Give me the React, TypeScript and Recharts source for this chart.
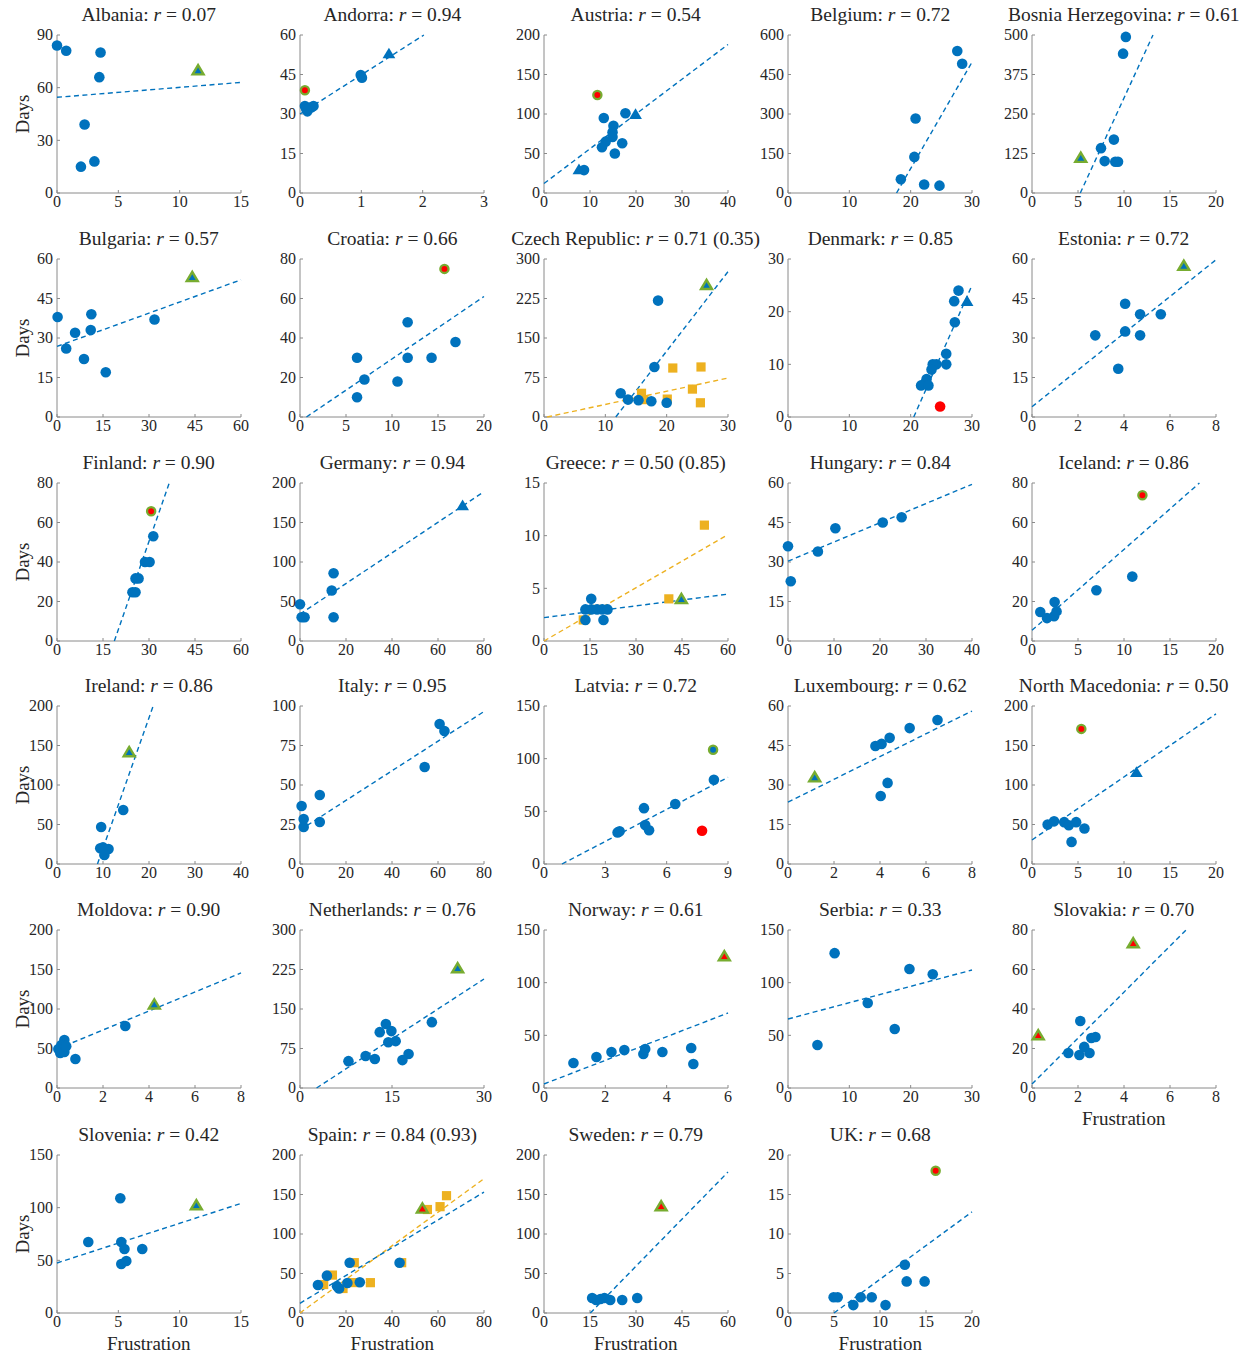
import React from 'react';
import { ScatterChart, Scatter, XAxis, YAxis } from 'recharts';

type Pt = [number, number];

const BLUE = '#0072BD';
const ORANGE = '#EDB120';
const GREEN = '#77AC30';
const RED = '#FF0000';
const AXIS = '#8a8a8a';
const TEXT = '#262626';
const FONT = 'Liberation Serif, DejaVu Serif, serif';

// ---- per-country data (Frustration, Days) ----
const albania = { c: [[0, 84], [0.75, 81], [3.55, 80], [3.45, 66], [2.25, 39], [1.95, 15], [3.05, 18]] as Pt[], gt: [[11.5, 70]] as Pt[], line: [[0, 54.5], [15, 63]] as Pt[] };
const andorra = { c: [[0.08, 33], [0.12, 31], [0.18, 32.5], [0.22, 33], [0.1, 32], [0.99, 44.8], [1.01, 43.8]] as Pt[], t: [[1.45, 53]] as Pt[], gc: [[0.08, 39]] as Pt[], line: [[0, 30], [2.02, 60]] as Pt[] };
const austria = { c: [[13, 95], [17.7, 101], [15.1, 85], [14.9, 77], [14.9, 71], [13.4, 65], [12.6, 58], [17, 63], [15.4, 50], [8.7, 29]] as Pt[], t: [[19.9, 100], [7.6, 30]] as Pt[], gc: [[11.6, 124]] as Pt[], line: [[0, 12], [40, 188]] as Pt[] };
const belgium = { c: [[27.6, 539], [28.4, 491], [20.8, 283], [20.6, 137], [18.4, 52], [22.2, 32], [24.7, 28]] as Pt[], line: [[17.7, 0], [30, 497]] as Pt[] };
const bosnia = { c: [[10.2, 494], [9.9, 441], [8.9, 169], [7.5, 142], [7.9, 101], [9.05, 99], [9.35, 99]] as Pt[], gt: [[5.3, 112]] as Pt[], line: [[5.25, 0], [13.15, 500]] as Pt[] };
const bulgaria = { c: [[0.2, 38], [3, 26], [5.9, 32], [8.8, 22], [11, 33], [11.2, 39], [15.9, 17], [31.8, 37]] as Pt[], gt: [[44.1, 53.2]] as Pt[], line: [[0, 26.8], [60, 52.1]] as Pt[] };
const croatia = { c: [[6.2, 30], [6.2, 10], [7, 19], [11.7, 48], [11.7, 30], [10.6, 18], [14.3, 30], [16.9, 38]] as Pt[], gc: [[15.7, 75]] as Pt[], line: [[0.7, 0], [20, 61]] as Pt[] };
const czech = { c: [[18.6, 221], [18, 95], [12.5, 45], [13.7, 33], [15.4, 32], [17.5, 30], [20, 27]] as Pt[], gt: [[26.5, 251]] as Pt[], sq: [[21, 93], [25.6, 95], [24.2, 53], [25.5, 27], [15.9, 45], [16.3, 33], [20.1, 34]] as Pt[], line: [[11.7, 0], [30, 276]] as Pt[], oline: [[0.5, 0], [30, 74]] as Pt[] };
const denmark = { c: [[27.8, 24], [27.1, 22], [27.2, 18], [25.8, 12], [25.8, 10], [24.2, 10], [23.6, 10], [23.4, 9], [22.6, 7.2], [22.4, 6.5], [21.7, 6], [22.9, 6]] as Pt[], t: [[29.2, 22]] as Pt[], rc: [[24.8, 2]] as Pt[], line: [[20.5, 0], [30, 25]] as Pt[] };
const estonia = { c: [[2.75, 31], [4.05, 43], [4.05, 32.5], [4.7, 39], [4.7, 31], [5.6, 39], [3.75, 18.3]] as Pt[], gt: [[6.6, 57.5]] as Pt[], line: [[0, 3.9], [8, 59.7]] as Pt[] };
const finland = { c: [[31.4, 53], [28.7, 40], [30.2, 40], [25.6, 31.7], [26.6, 31.7], [24.6, 24.7], [25.6, 24.7]] as Pt[], gc: [[30.7, 65.7]] as Pt[], line: [[18.7, 0], [36.6, 80]] as Pt[] };
const germany = { c: [[0, 46.5], [0.7, 30], [2, 30], [14.6, 85.7], [13.8, 64], [14.6, 30]] as Pt[], t: [[70.7, 171.8]] as Pt[], line: [[0, 34], [80, 189]] as Pt[] };
const greece = { sq: [[52.3, 11], [40.7, 4], [12.8, 2], [17.5, 3]] as Pt[], c: [[13.5, 2], [19.4, 2], [13.5, 3], [15.4, 3], [17.3, 3], [19, 3], [20.7, 3], [15.4, 4]] as Pt[], gt: [[44.8, 4]] as Pt[], line: [[0, 2.22], [60, 4.45]] as Pt[], oline: [[0, 0], [60, 10.1]] as Pt[] };
const hungary = { c: [[0, 36], [0.6, 22.7], [6.5, 34], [10.3, 42.8], [20.6, 45], [24.7, 47]] as Pt[], line: [[0, 30.3], [40, 59.5]] as Pt[] };
const iceland = { c: [[10.9, 32.6], [7, 25.7], [2.46, 19.7], [0.9, 14.7], [1.63, 11.6], [2.4, 12.5], [2.67, 15]] as Pt[], gc: [[12, 73.8]] as Pt[], line: [[0, 5.4], [18.2, 80]] as Pt[] };
const ireland = { c: [[14.4, 68.4], [9.6, 46.8], [9.4, 20], [10.3, 11.4], [11.2, 19], [10, 21]] as Pt[], gt: [[15.7, 141.8]] as Pt[], line: [[8.8, 0], [20.9, 200]] as Pt[] };
const italy = { c: [[0.7, 36.7], [1.6, 28.5], [1.6, 23.4], [8.6, 43.7], [8.6, 26.6], [54.2, 61.4], [60.7, 88.6], [62.8, 84.2]] as Pt[], line: [[0, 21.5], [80, 96.5]] as Pt[] };
const latvia = { c: [[8.31, 80], [6.42, 57], [4.89, 53], [4.95, 37], [5.14, 32], [3.6, 30], [3.7, 31]] as Pt[], gbc: [[8.27, 108.5]] as Pt[], rc: [[7.73, 31.5]] as Pt[], line: [[0.88, 0], [9, 82.3]] as Pt[] };
const luxembourg = { c: [[3.8, 44.8], [4.07, 45.6], [4.42, 47.9], [5.29, 51.6], [6.5, 54.7], [4.33, 30.8], [4.03, 25.8]] as Pt[], gt: [[1.16, 33]] as Pt[], line: [[0, 23.5], [8, 58.1]] as Pt[] };
const macedonia = { c: [[1.7, 50], [2.4, 54], [3.5, 53], [4.0, 49], [4.8, 53], [5.7, 45], [4.3, 28]] as Pt[], t: [[11.35, 116.5]] as Pt[], gc: [[5.36, 171]] as Pt[], line: [[0, 30.4], [20, 190]] as Pt[] };
const moldova = { c: [[2.97, 78.5], [0.32, 60.8], [0.19, 54.4], [0.06, 49.4], [0.14, 44.3], [0.32, 45.6], [0.8, 36.7], [0.4, 53]] as Pt[], gt: [[4.23, 106]] as Pt[], line: [[0, 49.4], [8, 145.6]] as Pt[] };
const netherlands = { c: [[14, 121.5], [14.9, 108], [13, 106], [14.4, 87], [15.6, 89], [21.5, 125], [17.7, 64.6], [16.7, 53], [10.7, 60.8], [7.9, 51], [12.2, 55]] as Pt[], gt: [[25.7, 227.8]] as Pt[], line: [[2.7, 0], [30, 207]] as Pt[] };
const norway = { c: [[0.96, 23.7], [1.71, 29.4], [2.2, 34.2], [2.62, 36], [3.24, 32.3], [3.3, 37], [3.86, 34.2], [4.8, 38], [4.87, 22.8]] as Pt[], rt: [[5.88, 125.3]] as Pt[], line: [[0, 3.8], [6, 71.2]] as Pt[] };
const serbia = { c: [[7.6, 128], [4.8, 40.8], [13, 80.7], [17.4, 56], [19.8, 113], [23.6, 108]] as Pt[], line: [[0, 65.5], [30, 112]] as Pt[] };
const slovakia = { c: [[2.1, 33.9], [1.58, 17.7], [2.06, 16.7], [2.27, 20.8], [2.5, 17.7], [2.58, 25.3], [2.76, 25.8]] as Pt[], rt: [[0.27, 26.8], [4.4, 73.4]] as Pt[], line: [[0, 2], [6.7, 80]] as Pt[] };
const slovenia = { c: [[2.55, 67.4], [5.16, 109], [5.24, 67.4], [5.5, 60.8], [5.24, 46.5], [5.65, 49.4], [6.95, 60.8]] as Pt[], gt: [[11.36, 102.5]] as Pt[], line: [[0, 47.5], [15, 104]] as Pt[] };
const spain = { sq: [[63.7, 148.5], [60.9, 134.6], [55.4, 131], [44.2, 63.7], [23.6, 63.7], [30.6, 38.4], [14.1, 48], [18.7, 31], [10.3, 36], [23.5, 38.5]] as Pt[], c: [[7.8, 35.4], [11.7, 47.3], [16.1, 34], [17, 31], [20.6, 38], [21.6, 63.7], [26, 38.9], [43.3, 63.7]] as Pt[], rt: [[53.2, 132.5]] as Pt[], line: [[0, 12.3], [80, 153]] as Pt[], oline: [[0, 0], [80, 170]] as Pt[] };
const sweden = { c: [[15.7, 19], [17, 16.5], [18.4, 17.7], [19.7, 19], [21.6, 16.5], [25.5, 16.5], [30.4, 19]] as Pt[], rt: [[38.2, 135.4]] as Pt[], line: [[15.1, 0], [60, 178.5]] as Pt[] };
const uk = { c: [[4.96, 2], [5.4, 2], [7.9, 2], [9.1, 2], [7.1, 1], [10.6, 1], [12.7, 6.1], [12.9, 4], [14.85, 4]] as Pt[], gc: [[16.05, 18]] as Pt[], line: [[5, 0], [20, 12.8]] as Pt[] };

const countryData = [albania, andorra, austria, belgium, bosnia, bulgaria, croatia, czech, denmark, estonia, finland, germany, greece, hungary, iceland, ireland, italy, latvia, luxembourg, macedonia, moldova, netherlands, norway, serbia, slovakia, slovenia, spain, sweden, uk];

const names = ['Albania', 'Andorra', 'Austria', 'Belgium', 'Bosnia Herzegovina', 'Bulgaria', 'Croatia', 'Czech Republic', 'Denmark', 'Estonia', 'Finland', 'Germany', 'Greece', 'Hungary', 'Iceland', 'Ireland', 'Italy', 'Latvia', 'Luxembourg', 'North Macedonia', 'Moldova', 'Netherlands', 'Norway', 'Serbia', 'Slovakia', 'Slovenia', 'Spain', 'Sweden', 'UK'];
const rValues = ['0.07', '0.94', '0.54', '0.72', '0.61', '0.57', '0.66', '0.71', '0.85', '0.72', '0.90', '0.94', '0.50', '0.84', '0.86', '0.86', '0.95', '0.72', '0.62', '0.50', '0.90', '0.76', '0.61', '0.33', '0.70', '0.42', '0.84', '0.79', '0.68'];
const rAlt: Record<number, string> = { 7: '0.35', 12: '0.85', 26: '0.93' };

const xTicks: number[][] = [
  [0, 5, 10, 15], [0, 1, 2, 3], [0, 10, 20, 30, 40], [0, 10, 20, 30], [0, 5, 10, 15, 20],
  [0, 15, 30, 45, 60], [0, 5, 10, 15, 20], [0, 10, 20, 30], [0, 10, 20, 30], [0, 2, 4, 6, 8],
  [0, 15, 30, 45, 60], [0, 20, 40, 60, 80], [0, 15, 30, 45, 60], [0, 10, 20, 30, 40], [0, 5, 10, 15, 20],
  [0, 10, 20, 30, 40], [0, 20, 40, 60, 80], [0, 3, 6, 9], [0, 2, 4, 6, 8], [0, 5, 10, 15, 20],
  [0, 2, 4, 6, 8], [0, 15, 30], [0, 2, 4, 6], [0, 10, 20, 30], [0, 2, 4, 6, 8],
  [0, 5, 10, 15], [0, 20, 40, 60, 80], [0, 15, 30, 45, 60], [0, 5, 10, 15, 20],
];
const yTicks: number[][] = [
  [0, 30, 60, 90], [0, 15, 30, 45, 60], [0, 50, 100, 150, 200], [0, 150, 300, 450, 600], [0, 125, 250, 375, 500],
  [0, 15, 30, 45, 60], [0, 20, 40, 60, 80], [0, 75, 150, 225, 300], [0, 10, 20, 30], [0, 15, 30, 45, 60],
  [0, 20, 40, 60, 80], [0, 50, 100, 150, 200], [0, 5, 10, 15], [0, 15, 30, 45, 60], [0, 20, 40, 60, 80],
  [0, 50, 100, 150, 200], [0, 25, 50, 75, 100], [0, 50, 100, 150], [0, 15, 30, 45, 60], [0, 50, 100, 150, 200],
  [0, 50, 100, 150, 200], [0, 75, 150, 225, 300], [0, 50, 100, 150], [0, 50, 100, 150], [0, 20, 40, 60, 80],
  [0, 50, 100, 150], [0, 50, 100, 150, 200], [0, 50, 100, 150, 200], [0, 5, 10, 15, 20],
];
const xLabelPanels = [24, 25, 26, 27, 28];

// ---- layout ----
const COL_LEFT = [0.7, 244.3, 487.7, 732.3, 975.7];
const ROW_TOP = [0, 224.3, 447.7, 671, 895, 1120];
const ML = 56;
const MT = 35;
const PW = 184;
const PH = 158;
const MR = 20;
const CW = ML + PW + MR;
const CH = 224;

const toObj = (pts?: Pt[]) => (pts || []).map(([x, y]) => ({ x, y }));

const blueCircle = (p: any) => <circle cx={p.cx} cy={p.cy} r={5.3} fill={BLUE} />;
const redCircle = (p: any) => <circle cx={p.cx} cy={p.cy} r={5.3} fill={RED} />;
const greenRedCircle = (p: any) => <circle cx={p.cx} cy={p.cy} r={4.1} fill={RED} stroke={GREEN} strokeWidth={2.3} />;
const greenBlueCircle = (p: any) => <circle cx={p.cx} cy={p.cy} r={4.1} fill={BLUE} stroke={GREEN} strokeWidth={2.3} />;
const square = (p: any) => <rect x={p.cx - 4.6} y={p.cy - 4.6} width={9.2} height={9.2} fill={ORANGE} />;
const triPts = (cx: number, cy: number, h: number) => `${cx},${cy - h} ${cx - h * 1.1},${cy + h * 0.85} ${cx + h * 1.1},${cy + h * 0.85}`;
const blueTri = (p: any) => <polygon points={triPts(p.cx, p.cy, 5.8)} fill={BLUE} />;
const greenBlueTri = (p: any) => <polygon points={triPts(p.cx, p.cy, 5)} fill={BLUE} stroke={GREEN} strokeWidth={2.4} />;
const greenRedTri = (p: any) => <polygon points={triPts(p.cx, p.cy, 5)} fill={RED} stroke={GREEN} strokeWidth={2.4} />;
const noShape = () => <g />;

const XTick = (p: any) => (
  <text x={p.x} y={p.y} dy="0.71em" textAnchor="middle" fill={TEXT} fontSize={16} fontFamily={FONT} style={{ fontFamily: FONT }}>{p.payload.value}</text>
);
const YTick = (p: any) => (
  <text x={p.x} y={p.y} dy="0.34em" textAnchor="end" fill={TEXT} fontSize={16} fontFamily={FONT} style={{ fontFamily: FONT }}>{p.payload.value}</text>
);

function Panel({ i }: { i: number }) {
  const d: any = countryData[i];
  const xt = xTicks[i];
  const yt = yTicks[i];
  const xd: [number, number] = [xt[0], xt[xt.length - 1]];
  const yd: [number, number] = [yt[0], yt[yt.length - 1]];
  const col = i % 5;
  const row = Math.floor(i / 5);
  const left = COL_LEFT[col];
  const top = ROW_TOP[row];
  const dash = { strokeWidth: 1.4, strokeDasharray: '5 3.5' };
  return (
    <div style={{ position: 'absolute', left, top, width: CW, height: CH, fontFamily: FONT }}>
      <ScatterChart width={CW} height={CH} margin={{ top: MT, right: MR, bottom: 0, left: 0 }} style={{ fontFamily: FONT }}>
        <XAxis xAxisId={0} type="number" dataKey="x" domain={xd} ticks={xt} interval={0} height={CH - MT - PH}
          tickSize={-3} tickMargin={6} axisLine={{ stroke: AXIS }} tickLine={{ stroke: AXIS }} tick={XTick} />
        <XAxis xAxisId="top" orientation="top" type="number" domain={xd} ticks={xt} interval={0} height={0}
          tickSize={-3} axisLine={{ stroke: AXIS }} tickLine={{ stroke: AXIS }} tick={false} />
        <YAxis yAxisId={0} type="number" dataKey="y" domain={yd} ticks={yt} interval={0} width={ML}
          tickSize={-3} tickMargin={7} axisLine={{ stroke: AXIS }} tickLine={{ stroke: AXIS }} tick={YTick} />
        <YAxis yAxisId="right" orientation="right" type="number" domain={yd} ticks={yt} interval={0} width={0}
          tickSize={-3} axisLine={{ stroke: AXIS }} tickLine={{ stroke: AXIS }} tick={false} />
        {d.oline && <Scatter data={toObj(d.oline)} line={{ stroke: ORANGE, ...dash }} shape={noShape} isAnimationActive={false} />}
        {d.line && <Scatter data={toObj(d.line)} line={{ stroke: BLUE, ...dash }} shape={noShape} isAnimationActive={false} />}
        {d.sq && <Scatter data={toObj(d.sq)} shape={square} isAnimationActive={false} />}
        {d.c && <Scatter data={toObj(d.c)} shape={blueCircle} isAnimationActive={false} />}
        {d.rc && <Scatter data={toObj(d.rc)} shape={redCircle} isAnimationActive={false} />}
        {d.t && <Scatter data={toObj(d.t)} shape={blueTri} isAnimationActive={false} />}
        {d.gt && <Scatter data={toObj(d.gt)} shape={greenBlueTri} isAnimationActive={false} />}
        {d.rt && <Scatter data={toObj(d.rt)} shape={greenRedTri} isAnimationActive={false} />}
        {d.gc && <Scatter data={toObj(d.gc)} shape={greenRedCircle} isAnimationActive={false} />}
        {d.gbc && <Scatter data={toObj(d.gbc)} shape={greenBlueCircle} isAnimationActive={false} />}
      </ScatterChart>
      <div style={{ position: 'absolute', left: ML + PW / 2, top: 4, transform: 'translateX(-50%)', whiteSpace: 'nowrap', fontFamily: FONT, fontSize: 19.5, lineHeight: '22px', color: TEXT }}>
        {names[i]}: <span style={{ fontStyle: 'italic' }}>r</span> = {rValues[i]}{rAlt[i] ? ` (${rAlt[i]})` : ''}
      </div>
      {col === 0 && (
        <div style={{ position: 'absolute', left: 22, top: MT + PH / 2, transform: 'translate(-50%, -50%) rotate(-90deg)', whiteSpace: 'nowrap', fontFamily: FONT, fontSize: 19, lineHeight: '22px', color: TEXT }}>
          Days
        </div>
      )}
      {xLabelPanels.includes(i) && (
        <div style={{ position: 'absolute', left: ML + PW / 2, top: MT + PH + 20, transform: 'translateX(-50%)', whiteSpace: 'nowrap', fontFamily: FONT, fontSize: 19, lineHeight: '22px', color: TEXT }}>
          Frustration
        </div>
      )}
    </div>
  );
}

export default function App() {
  return (
    <div style={{ position: 'absolute', left: 0, top: 0, width: 1247, height: 1355, background: '#fff' }}>
      {names.map((_, i) => <Panel key={i} i={i} />)}
    </div>
  );
}
